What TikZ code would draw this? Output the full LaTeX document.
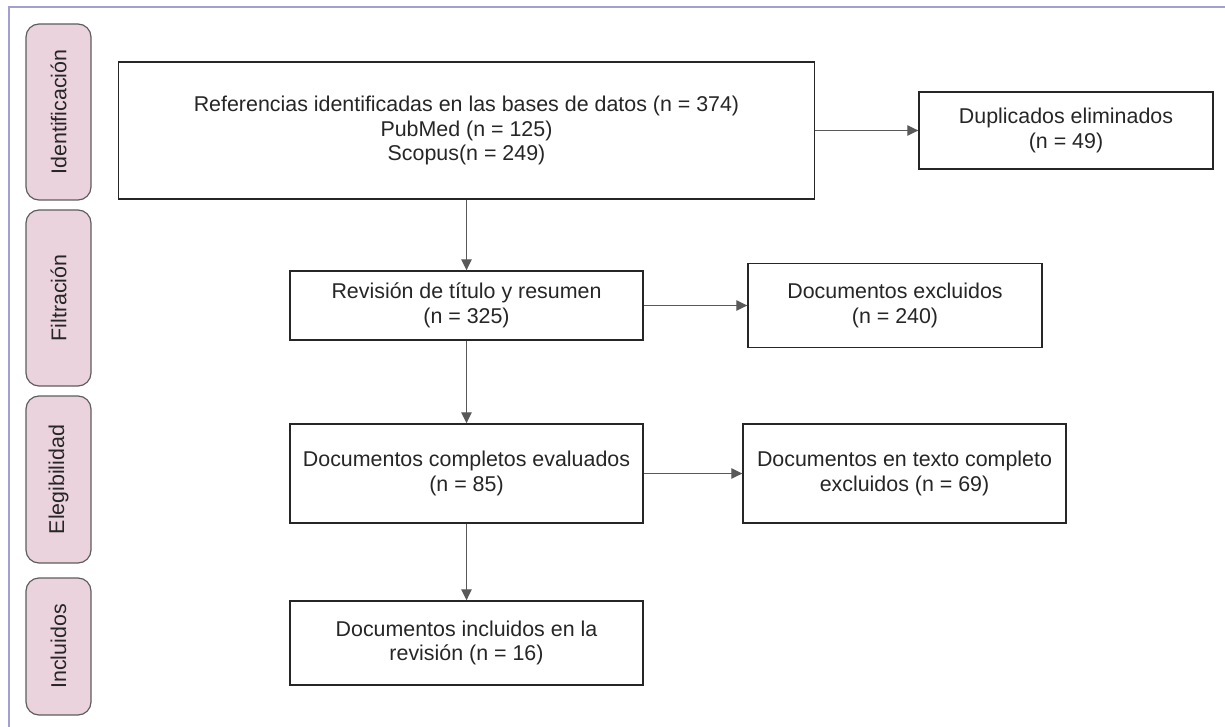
\documentclass[tikz,border=0pt]{standalone}
\usepackage{fontspec}
\setmainfont{Liberation Sans}
\usetikzlibrary{arrows.meta}
\definecolor{frameC}{HTML}{A19FD4}
\definecolor{pillF}{HTML}{EBD3DE}
\definecolor{pillD}{HTML}{5E5E5E}
\definecolor{boxD}{HTML}{262626}
\definecolor{arrC}{HTML}{595959}
\definecolor{txtC}{HTML}{262626}
\tikzset{
  flowbox/.style={draw=boxD, line width=1.4pt, fill=white, rectangle, inner sep=0pt, align=center,
    text=txtC, font=\fontsize{21.4}{24.5}\selectfont},
  pill/.style={draw=pillD, line width=1.2pt, fill=pillF, rounded corners=13pt, inner sep=0pt,
    rotate=90, minimum height=65pt, text=txtC, font=\fontsize{21.4}{24.5}\selectfont},
  flowarrow/.style={draw=arrC, line width=1.3pt, -{Triangle[length=11pt,width=10.5pt]}}
}
\begin{document}
\begin{tikzpicture}[x=1pt,y=-1pt]
\useasboundingbox (0,0) rectangle (1225,727);
\draw[frameC, line width=1.6pt] (1225,7) -- (9,7) -- (9,727);

\node[pill, minimum width=176pt] (pid) at (58.5,112) {Identificación};
\node[pill, minimum width=176pt] (pfi) at (58.5,298) {Filtración};
\node[pill, minimum width=167pt] (pel) at (58.5,479.5) {Elegibilidad};
\node[pill, minimum width=137pt] (pin) at (58.5,646.5) {Incluidos};

\node[flowbox, minimum width=696pt, minimum height=137pt] (b1) at (466.5,130.5)
  {Referencias identificadas en las bases de datos (n = 374)\\PubMed (n = 125)\\Scopus(n = 249)};
\node[flowbox, minimum width=294pt, minimum height=77pt] (dup) at (1066,130.5)
  {Duplicados eliminados\\(n = 49)};
\node[flowbox, minimum width=353pt, minimum height=69pt] (rev) at (466.5,305.5)
  {Revisión de título y resumen\\(n = 325)};
\node[flowbox, minimum width=294pt, minimum height=84pt] (exc) at (895,305.5)
  {Documentos excluidos\\(n = 240)};
\node[flowbox, minimum width=353pt, minimum height=99pt] (comp) at (466.5,473.5)
  {Documentos completos evaluados\\(n = 85)};
\node[flowbox, minimum width=323pt, minimum height=99pt] (texc) at (904.5,473.5)
  {Documentos en texto completo\\excluidos (n = 69)};
\node[flowbox, minimum width=353pt, minimum height=84pt] (inc) at (466.5,643)
  {Documentos incluidos en la\\revisión (n = 16)};

\draw[flowarrow] (b1.east) -- (dup.west);
\draw[flowarrow] (b1.south) -- (rev.north);
\draw[flowarrow] (rev.east) -- (exc.west);
\draw[flowarrow] (rev.south) -- (comp.north);
\draw[flowarrow] (comp.east) -- (texc.west);
\draw[flowarrow] (comp.south) -- (inc.north);
\end{tikzpicture}
\end{document}
